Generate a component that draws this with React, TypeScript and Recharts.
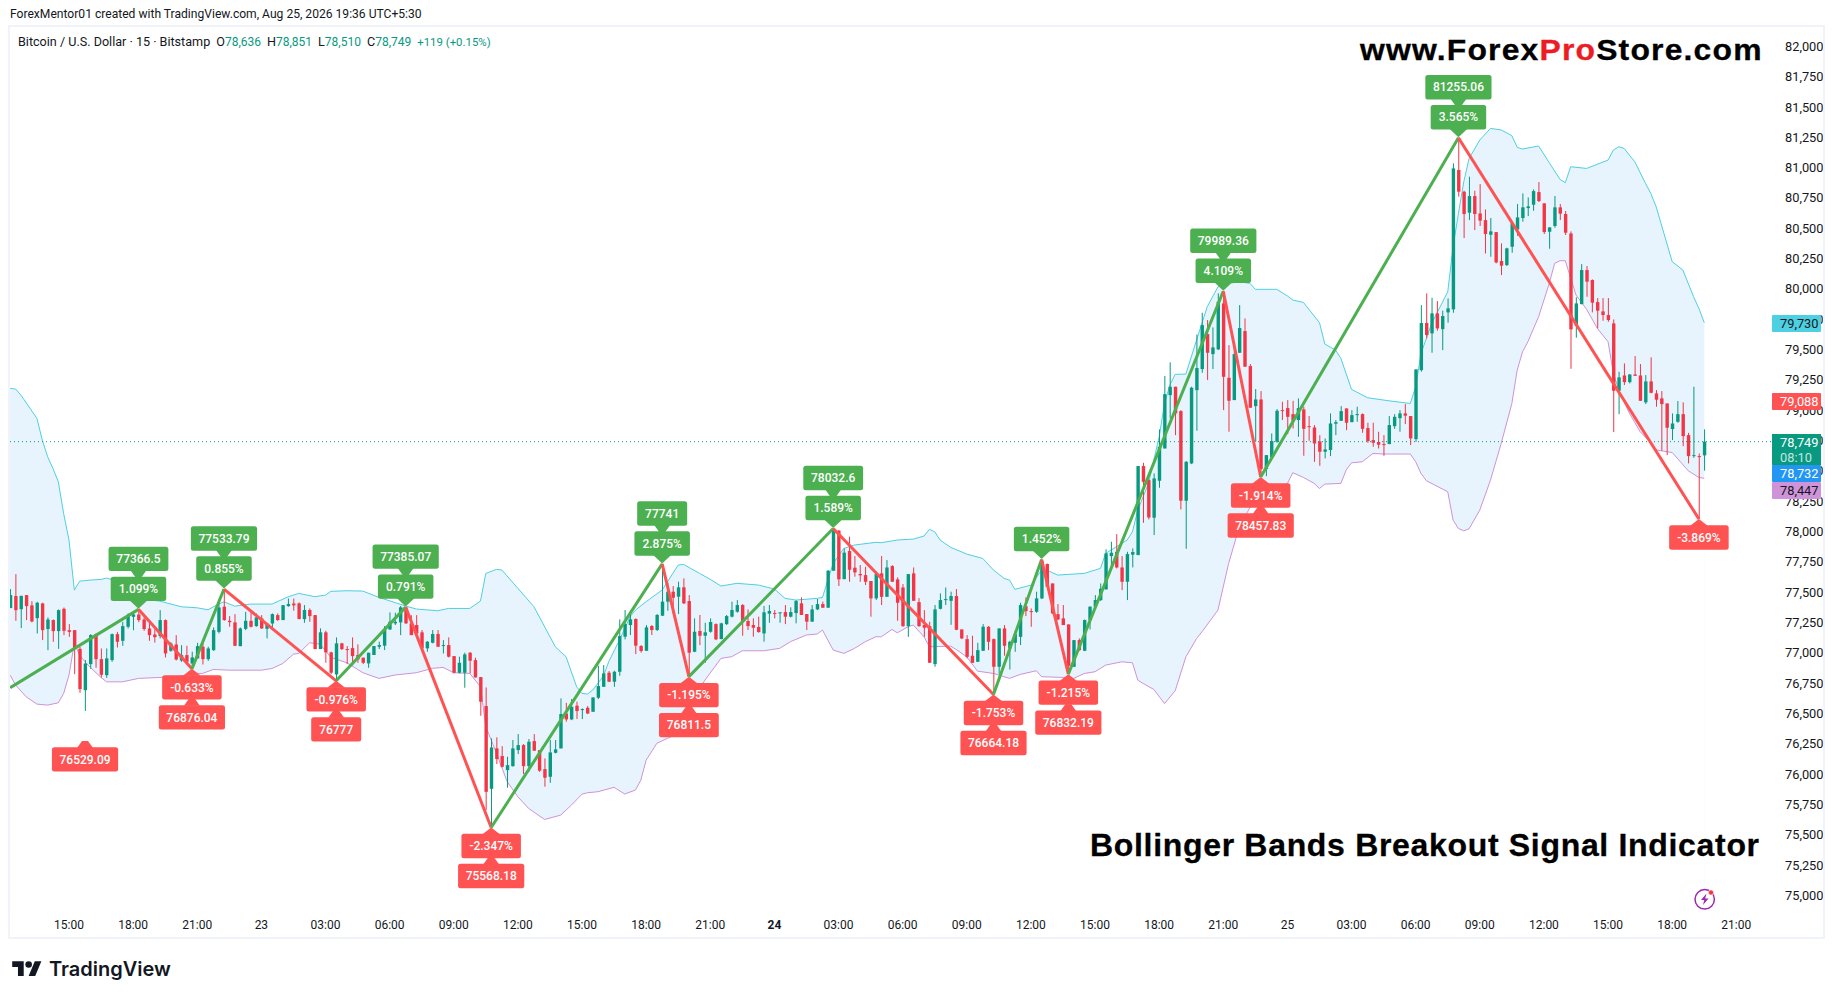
import React from 'react';
import { ComposedChart, Bar, Line, Area, XAxis, YAxis, ReferenceDot, ReferenceLine } from 'recharts';

const firstBar = -11;

const opens = [
  77377,77476,77368,77484,77399,77294,77415,77204,77278,77187,
  77371,77195,77195,77041,76700,76915,77162,76956,76824,76948,
  77162,77107,77223,77305,77324,77283,77209,77159,77146,77278,
  77025,77077,76945,76989,76920,76962,77058,76956,77030,77181,
  77388,77272,77259,77063,77206,77272,77228,77292,77206,77250,
  77319,77278,77393,77415,77416,77286,77361,77319,77039,77177,
  77012,76830,77086,77039,77047,76990,76968,76921,76990,77058,
  77067,77201,77251,77259,77380,77251,77237,77177,77045,77091,
  77163,77067,77072,76981,76844,76844,77009,76948,76808,76569,
  75887,76220,76157,76041,76074,76206,76247,76074,76280,76206,
  76049,75986,76184,76220,76508,76459,76572,76541,76555,76522,
  76638,76728,76844,76770,76852,77141,77237,77287,77064,77025,
  77229,77196,77314,77430,77512,77471,77548,77435,77017,77188,
  77149,77182,77245,77122,77245,77306,77347,77402,77270,77237,
  77221,77168,77331,77336,77339,77344,77306,77336,77416,77328,
  77265,77366,77410,77380,77685,78015,77616,77847,77710,77658,
  77649,77600,77457,77663,77470,77723,77613,77547,77228,77663,
  77426,77237,77228,76915,77371,77446,77437,77476,77201,77121,
  76984,76934,77025,77223,77121,76893,77209,77044,77091,77140,
  77393,77352,77347,77457,77740,77580,77327,77292,77242,76893,
  77113,77025,77278,77388,77443,77531,77806,77841,77712,77594,
  77817,77814,78548,78432,78122,78427,78693,79133,79202,79001,
  78262,78570,79174,79348,79636,79471,79510,79889,79276,79092,
  79482,79661,79372,79042,79097,78523,78619,78748,79009,79026,
  78976,78927,79015,78877,78866,78751,78666,78680,78897,78921,
  79023,78910,78971,78976,78861,78762,78746,78729,78729,78877,
  78943,78982,78960,78770,79339,79727,79642,79807,79677,79815,
  79840,80989,80810,80637,80774,80631,80576,80455,80477,80238,
  80205,80356,80499,80593,80675,80703,80807,80714,80480,80527,
  80681,80626,80466,79705,79883,80164,80082,79900,79823,79793,
  79724,79169,79295,79240,79303,79295,79073,79246,79147,79106,
  79064,78853,78913,78976,78803,78630,78630,78636,
];

const highs = [
  77533,77657,77478,77484,77434,77429,77421,77300,77283,77366,
  77382,77245,77195,77058,76948,77162,77168,77044,77044,77168,
  77181,77264,77333,77341,77366,77311,77256,77201,77360,77283,
  77096,77154,77071,77066,77017,77091,77085,77058,77217,77448,
  77534,77311,77327,77217,77346,77341,77333,77319,77250,77333,
  77333,77401,77456,77456,77424,77402,77374,77319,77210,77190,
  77017,77135,77091,77064,77135,77078,76968,77009,77064,77100,
  77229,77341,77339,77394,77385,77319,77319,77196,77105,77196,
  77196,77113,77135,76981,76976,77009,77014,76968,76808,76723,
  76302,76311,76239,76151,76289,76338,76256,76297,76338,76206,
  76137,76289,76289,76632,76596,76627,76605,76550,76569,76640,
  76902,76907,76858,76860,77284,77361,77361,77292,77072,77237,
  77237,77328,77741,77586,77559,77594,77622,77484,77292,77320,
  77256,77292,77251,77256,77320,77430,77443,77410,77366,77292,
  77306,77394,77402,77361,77342,77402,77383,77443,77465,77328,
  77402,77452,77430,77691,78032,78021,77869,77966,77806,77732,
  77718,77600,77677,77806,77773,77731,77630,77575,77657,77712,
  77459,77360,77264,77402,77498,77547,77512,77534,77201,77154,
  77149,77091,77245,77228,77127,77209,77237,77107,77190,77421,
  77465,77374,77512,77777,77745,77580,77410,77402,77242,77113,
  77127,77283,77393,77484,77580,77861,77924,77987,77806,77841,
  77869,78548,78575,78438,78487,78850,79290,79403,79202,79009,
  78589,79202,79633,79812,79752,79691,79972,79989,79545,79545,
  79875,79765,79389,79183,79166,78638,78817,79018,79078,79092,
  79086,79106,79037,78960,78886,78803,78776,78982,78927,79042,
  79023,79009,79037,78982,78905,78905,78831,78803,78960,78976,
  79009,79059,78960,79345,79875,79971,79936,79908,79829,79930,
  81044,81255,80818,80934,80818,80873,80664,80593,80477,80384,
  80348,80554,80708,80796,80763,80829,80890,80714,80516,80774,
  80708,80651,80483,79939,80213,80197,80087,79933,79933,79933,
  79757,79325,79394,79306,79455,79389,79298,79444,79174,79166,
  79064,78982,79084,79073,78822,79202,78652,78851,
];

const lows = [
  77377,77272,77212,77278,77259,77168,77113,77030,77099,77041,
  77154,77140,76832,76678,76529,76876,76885,76805,76802,76934,
  77052,77066,77209,77195,77261,77190,77107,77093,77127,76970,
  77017,76945,76934,76917,76876,76962,76912,76942,77025,77168,
  77272,77223,77063,77063,77195,77217,77223,77206,77127,77195,
  77272,77278,77388,77355,77286,77256,77264,77039,77039,76926,
  76833,76777,77031,76915,76907,76926,76915,76885,76990,77039,
  77031,77196,77237,77154,77245,77154,77154,77031,77017,77086,
  77058,77003,76970,76838,76838,76720,76838,76805,76489,75711,
  75568,76091,76063,75896,76069,76173,76008,76027,76201,76027,
  75904,75937,76179,76220,76440,76453,76462,76462,76503,76522,
  76627,76728,76767,76728,76819,77119,77155,76998,77009,77023,
  77155,77188,77314,77355,77333,77328,77410,76812,77014,77072,
  76926,77174,77113,77119,77237,77300,77339,77149,77196,77141,
  77174,77100,77256,77292,77256,77245,77300,77251,77320,77196,
  77265,77361,77380,77380,77685,77559,77614,77594,77636,77594,
  77567,77306,77443,77402,77470,77594,77272,77223,77140,77437,
  77223,77140,76926,76893,77366,77402,77239,77195,77121,76962,
  76926,76934,77025,77030,76664,76833,76984,76871,77017,77072,
  77311,77223,77338,77451,77553,77327,77278,77237,76832,76893,
  77025,77022,77201,77382,77435,77531,77696,77704,77525,77443,
  77712,77814,78080,78108,77979,78369,78693,78941,78803,78190,
  77866,78564,78839,79317,79257,79348,79504,79009,78831,79092,
  79482,79367,79029,78748,78458,78465,78611,78740,78927,78811,
  78858,78789,78633,78757,78583,78550,78611,78630,78803,78921,
  78844,78910,78913,78822,78740,78707,78693,78633,78729,78855,
  78831,78894,78721,78748,79326,79600,79482,79664,79504,79730,
  79812,80769,80428,80576,80494,80527,80301,80274,80219,80123,
  80197,80307,80447,80563,80609,80653,80725,80461,80340,80513,
  80576,80453,79350,79606,79883,79944,79815,79683,79746,79738,
  78828,78976,79216,79229,79292,79086,79059,79147,79037,78674,
  78638,78762,78905,78712,78570,78616,78111,78510,
];

const closes = [
  77484,77360,77478,77393,77267,77421,77195,77283,77187,77360,
  77190,77181,77041,76709,76920,77154,76956,76827,76962,77162,
  77099,77228,77319,77324,77278,77204,77154,77137,77278,77003,
  77085,76953,76989,76934,76970,77063,76956,77044,77195,77382,
  77278,77261,77066,77209,77272,77223,77300,77209,77250,77327,
  77278,77401,77410,77399,77286,77361,77311,77039,77177,77012,
  76844,77086,77039,77036,76981,76954,76926,77009,77064,77072,
  77201,77264,77264,77383,77251,77154,77168,77045,77100,77163,
  77058,77072,76976,76844,76926,76995,76943,76805,76605,75862,
  76228,76132,76069,76082,76220,76247,76074,76275,76201,76036,
  75978,76187,76212,76503,76459,76563,76528,76544,76508,76640,
  76734,76838,76770,76852,77146,77245,77284,77067,77023,77218,
  77196,77320,77430,77512,77462,77548,77416,77009,77182,77149,
  77177,77262,77119,77251,77311,77361,77402,77265,77229,77215,
  77179,77342,77353,77331,77342,77306,77344,77435,77320,77265,
  77366,77410,77380,77685,78021,77614,77834,77693,77671,77647,
  77594,77457,77658,77470,77712,77594,77421,77228,77657,77437,
  77228,77215,76926,77366,77443,77451,77476,77198,77127,76975,
  76926,77030,77223,77099,76893,77209,77066,77099,77162,77402,
  77352,77347,77457,77767,77553,77333,77283,77237,76901,77113,
  77030,77278,77388,77443,77536,77828,77833,77712,77594,77822,
  77839,78548,78418,78124,78446,78707,79141,79202,78982,78262,
  78583,79194,79356,79710,79482,79526,79903,79284,79086,79471,
  79686,79367,79029,79097,78523,78638,78754,79004,79004,78954,
  78916,79026,78855,78872,78734,78666,78685,78899,78910,79001,
  78905,78968,78976,78855,78754,78740,78724,78724,78886,78954,
  78982,78963,78776,79345,79727,79628,79807,79683,79785,79848,
  81002,80810,80626,80774,80626,80571,80461,80483,80227,80200,
  80343,80549,80598,80681,80689,80815,80733,80477,80516,80681,
  80629,80472,79675,79889,80164,80068,79895,79829,79793,79752,
  79169,79279,79240,79303,79292,79086,79246,79152,79095,79059,
  78864,78899,78976,78795,78630,78638,78625,78749,
];

// bollinger bands, read at the bends of each curve
const upperBars = [
  -11,-10,-9,-6,-5,-4,-3,-2,-1,0,1,2,4,6,7,8,13,17,21,24,26,28,29,31,34,38,41,
  43,46,48,49,52,55,58,63,65,69,71,75,77,78,80,81,87,91,93,95,96,97,98,100,101,103,105,106,108,111,114,115,
  118,120,122,125,129,132,134,136,140,141,142,143,145,147,151,152,155,158,160,161,162,163,165,168,171,173,175,176,177,180,182,183,185,190,193,194,196,198,199,
  200,202,204,205,206,207,209,211,213,215,217,219,221,222,226,228,229,231,234,235,237,238,240,243,247,251,252,
  253,255,258,259,260,261,262,264,266,268,270,271,272,275,277,279,280,281,284,288,289,290,291,293,295,296,297,300,302,304,305,306,
];
const upperValues = [
  79188,79183,79133,78941,78762,78625,78528,78419,78157,77937,77525,77599,77608,77613,77624,77613,77456,77434,77388,77379,77363,77410,77429,77393,77410,77410,77470,
  77498,77471,77484,77515,77520,77517,77465,77394,77369,77355,77374,77374,77435,77663,77696,77691,77388,77058,76976,76728,76673,76668,76701,76816,76935,77113,77306,77361,77430,77526,77732,77737,
  77663,77614,77559,77581,77567,77534,77457,77443,77457,77465,77608,77746,77869,77897,77919,77916,77938,77946,77971,78026,78006,77938,77877,77822,77786,77690,77621,77608,77531,77566,77690,77690,77649,77663,77704,77828,77883,77938,78006,
  78185,78405,78789,79064,79216,79304,79306,79587,79862,80025,80054,80068,80054,80005,80005,79950,79917,79897,79730,79554,79504,79436,79180,79111,79086,79064,79202,
  79477,79724,79985,80356,80631,80892,81085,81236,81332,81319,81272,81176,81162,81187,81049,80912,80884,81016,81002,81071,81154,81181,81167,81057,80879,80796,80686,80233,80164,79944,79848,79730,
];

const lowerBars = [
  -11,-10,-8,-6,-4,-2,-1,0,1,2,3,4,6,7,10,13,17,21,23,25,27,30,36,38,40,42,
  43,45,47,49,52,55,58,61,65,68,70,72,75,77,78,80,82,84,86,89,92,94,96,97,99,102,104,106,107,108,110,112,114,116,119,
  122,124,126,130,133,135,138,140,141,142,143,145,147,149,151,152,154,155,157,158,160,161,165,166,168,170,173,176,178,181,182,186,188,190,192,194,197,199,200,
  201,203,205,207,209,211,212,215,217,219,221,224,226,228,229,231,233,234,235,238,239,240,242,244,246,251,252,253,
  254,258,259,260,261,262,264,266,268,270,271,272,273,275,277,278,279,280,282,284,286,288,289,290,292,294,296,297,300,303,305,306,
];
const lowerValues = [
  76824,76742,76645,76585,76577,76596,76673,76824,77085,76989,76934,76887,76805,76769,76769,76797,76805,76816,76838,76838,76871,76865,76865,76879,76920,76997,
  77003,77091,77080,76970,76926,76844,76797,76825,76844,76880,76888,76844,76838,76728,76399,76179,75945,75821,75725,75634,75670,75752,75843,75854,75863,75899,75844,75877,75958,76123,76262,76303,76344,76564,76783,
  76962,76976,77025,77025,77045,77100,77155,77163,77196,77113,77031,77003,77045,77100,77141,77140,77201,77173,77223,77237,77140,77058,77063,77036,76975,76857,76838,76797,76830,76860,76811,76805,76797,76838,76852,76907,76934,76926,76783,
  76755,76706,76590,76695,76975,77126,77181,77360,77745,78047,78207,78295,78363,78405,78493,78454,78405,78363,78399,78405,78515,78575,78583,78652,78647,78647,78583,78487,
  78427,78336,78102,78033,78014,78031,78185,78432,78734,79064,79339,79490,79573,79779,80054,80219,80241,80241,79958,79839,79683,79573,79312,79174,78982,78831,78740,78680,78660,78509,78454,78447,
];

// zigzag pivots and the tags the indicator prints on them
const pivotBars = [-11, 13, 23, 29, 50, 63, 79, 111, 116, 143, 173, 182, 187, 216, 223, 260, 305];
const pivotPrices = [76721, 77366.5, 76876.04, 77533.79, 76777, 77385.07, 75568.18, 77741, 76811.5, 78032.6, 76664.18, 77777, 76832.19, 79989.36, 78457.83, 81255.06, 78111];
const pivotPercents = ['', '1.099%', '-0.633%', '0.855%', '-0.976%', '0.791%', '-2.347%', '2.875%', '-1.195%', '1.589%', '-1.753%', '1.452%', '-1.215%', '4.109%', '-1.914%', '3.565%', '-3.869%'];
const pivotLabels = ['', '77366.5', '76876.04', '77533.79', '76777', '77385.07', '75568.18', '77741', '76811.5', '78032.6', '76664.18', '', '76832.19', '79989.36', '78457.83', '81255.06', ''];
const extraLowBar = 3;
const extraLowPrice = 76529.09;

const yTicks = [75000, 75250, 75500, 75750, 76000, 76250, 76500, 76750, 77000, 77250, 77500, 77750, 78000, 78250, 78500, 78750, 79000, 79250, 79500, 79750, 80000, 80250, 80500, 80750, 81000, 81250, 81500, 81750, 82000];
const xTickBars = [0, 12, 24, 36, 48, 60, 72, 84, 96, 108, 120, 132, 144, 156, 168, 180, 192, 204, 216, 228, 240, 252, 264, 276, 288, 300, 312];
const xTickLabels = ['15:00', '18:00', '21:00', '23', '03:00', '06:00', '09:00', '12:00', '15:00', '18:00', '21:00', '24', '03:00', '06:00', '09:00', '12:00', '15:00', '18:00', '21:00', '25', '03:00', '06:00', '09:00', '12:00', '15:00', '18:00', '21:00'];

const lastPrice = 78749;
const yMin = 74887.6;
const yMax = 82159.8;

const UP = '#089981';
const DOWN = '#f23645';
const PIVOT_UP = '#4caf50';
const PIVOT_DOWN = '#ff5252';
const FONT = 'Roboto, "Noto Sans", sans-serif';

const candles = opens.map((open, n) => ({
  i: firstBar + n,
  open,
  high: highs[n],
  low: lows[n],
  close: closes[n],
}));
const upperBand = upperBars.map((i, n) => ({ i, value: upperValues[n] }));
const lowerBand = lowerBars.map((i, n) => ({ i, value: lowerValues[n] }));
const pivots = pivotBars.map((i, n) => ({ i, price: pivotPrices[n], pct: pivotPercents[n], label: pivotLabels[n] }));
const segments = pivots.slice(1).map((p, n) => ({ from: pivots[n], to: p, up: p.price > pivots[n].price }));

function Candle(props: any) {
  const { x, y, width, height, payload } = props;
  const up = payload.close >= payload.open;
  const color = up ? UP : DOWN;
  const perUnit = height / Math.max(payload.high - payload.low, 1);
  const top = y + (payload.high - Math.max(payload.open, payload.close)) * perUnit;
  const bodyH = Math.max(Math.abs(payload.close - payload.open) * perUnit, 1);
  const mid = x + width / 2;
  return (
    <g>
      <rect x={mid - 0.5} y={y} width={1} height={Math.max(height, 1)} fill={color} />
      <rect x={mid - 1.7} y={top} width={3.4} height={bodyH} fill={color} />
    </g>
  );
}

function tagWidth(text: string) {
  let w = 18;
  for (const ch of text) {
    if (ch === '.') w += 3.4;
    else if (ch === '%') w += 8.5;
    else if (ch === '-') w += 4;
    else w += 6.4;
  }
  return w;
}

function TagBox({ cx, top, text, fill }: any) {
  const w = tagWidth(text);
  return (
    <g>
      <rect x={cx - w / 2} y={top} width={w} height={24.4} rx={2.5} fill={fill} />
      <text x={cx} y={top + 12.2} dy=".35em" textAnchor="middle" fontFamily={FONT} fontSize={12} fontWeight={500} fill="#fff">
        {text}
      </text>
    </g>
  );
}

function PivotTag({ cx, cy, pct, label, up }: any) {
  const fill = up ? PIVOT_UP : PIVOT_DOWN;
  if (up) {
    return (
      <g>
        <polygon points={`${cx - 9},${cy - 9} ${cx + 9},${cy - 9} ${cx},${cy - 0.5}`} fill={fill} />
        <TagBox cx={cx} top={cy - 8.3 - 24.4} text={pct} fill={fill} />
        {label && <polygon points={`${cx - 8},${cy - 39} ${cx + 8},${cy - 39} ${cx + 3},${cy - 32} ${cx - 3},${cy - 32}`} fill={fill} />}
        {label && <TagBox cx={cx} top={cy - 38.3 - 24.4} text={label} fill={fill} />}
      </g>
    );
  }
  return (
    <g>
      {pct && <polygon points={`${cx - 9},${cy + 7} ${cx + 9},${cy + 7} ${cx},${cy}`} fill={fill} />}
      {pct && <TagBox cx={cx} top={cy + 6.3} text={pct} fill={fill} />}
      {label && <polygon points={`${cx - 8},${cy + 37} ${cx + 8},${cy + 37} ${cx + 3},${cy + 30} ${cx - 3},${cy + 30}`} fill={fill} />}
      {label && <TagBox cx={cx} top={cy + 36.3} text={label} fill={fill} />}
    </g>
  );
}

function TimeTick({ x, y, payload }: any) {
  const text = xTickLabels[xTickBars.indexOf(payload.value)];
  const bold = text === '24';
  return (
    <text x={x} y={y - 1} dy=".35em" textAnchor="middle" fontFamily={FONT} fontSize={12} fontWeight={bold ? 700 : 400} fill="#131722">
      {text}
    </text>
  );
}

function PriceTick({ x, y, payload }: any) {
  return (
    <text x={x} y={y - 1} dy=".35em" fontFamily={FONT} fontSize={12.8} fill="#131722">
      {payload.value.toLocaleString('en-US')}
    </text>
  );
}

const axisPills = [
  { text: '79,730', top: 314.5, height: 17, bg: '#4dd0e1', color: '#131722' },
  { text: '79,088', top: 393, height: 17, bg: '#ff5252', color: '#fff' },
  { text: '78,732', top: 465, height: 17, bg: '#2196f3', color: '#fff' },
  { text: '78,447', top: 482, height: 17, bg: '#ce93d8', color: '#131722' },
];

const titleFont = '"Liberation Sans", Arial, sans-serif';

export default function App() {
  return (
    <div style={{ position: 'absolute', left: 0, top: 0, width: 1835, height: 1000, background: '#fff', overflow: 'hidden' }}>
      <ComposedChart
        width={1835}
        height={1000}
        data={candles}
        margin={{ top: 28, right: 0, bottom: 62, left: 10 }}
      >
        <XAxis
          dataKey="i"
          type="number"
          domain={[-11.04, 318.49]}
          allowDataOverflow
          ticks={xTickBars}
          interval={0}
          height={28}
          axisLine={false}
          tickLine={false}
          tickMargin={10}
          tick={<TimeTick />}
        />
        <YAxis
          orientation="right"
          type="number"
          domain={[yMin, yMax]}
          allowDataOverflow
          ticks={yTicks}
          interval={0}
          width={64}
          axisLine={false}
          tickLine={false}
          tickMargin={8}
          tick={<PriceTick />}
        />
        <Area data={upperBand} dataKey="value" type="linear" baseValue={yMin} fill="#e7f3fd" fillOpacity={1} stroke="#4dd0e1" strokeWidth={1} dot={false} activeDot={false} isAnimationActive={false} />
        <Area data={lowerBand} dataKey="value" type="linear" baseValue={yMin} fill="#ffffff" fillOpacity={1} stroke="#ce93d8" strokeWidth={1} dot={false} activeDot={false} isAnimationActive={false} />
        <ReferenceLine y={lastPrice} stroke={UP} strokeDasharray="1 3" strokeWidth={1} />
        <Bar dataKey={(d: any) => [d.low, d.high]} barSize={4} shape={<Candle />} isAnimationActive={false} />
        {segments.map((s, n) => (
          <Line
            key={n}
            data={[s.from, s.to]}
            dataKey="price"
            type="linear"
            stroke={s.up ? PIVOT_UP : PIVOT_DOWN}
            strokeWidth={3}
            dot={false}
            activeDot={false}
            isAnimationActive={false}
          />
        ))}
        <ReferenceDot
          x={extraLowBar}
          y={extraLowPrice}
          ifOverflow="visible"
          shape={(p: any) => <PivotTag cx={p.cx} cy={p.cy} pct="" label={String(extraLowPrice)} up={false} />}
        />
        {segments.map((s, n) => (
          <ReferenceDot
            key={n}
            x={s.to.i}
            y={s.to.price}
            ifOverflow="visible"
            shape={(p: any) => <PivotTag cx={p.cx} cy={p.cy} pct={s.to.pct} label={s.to.label} up={s.up} />}
          />
        ))}
      </ComposedChart>

      <div style={{ position: 'absolute', left: 8, top: 25, width: 1817, height: 914, boxSizing: 'border-box', border: '2px solid #f0f3fa', pointerEvents: 'none' }} />

      <div style={{ position: 'absolute', left: 10, top: 7, fontFamily: FONT, fontSize: 12.1, color: '#131722', whiteSpace: 'nowrap' }}>
        ForexMentor01 created with TradingView.com, Aug 25, 2026 19:36 UTC+5:30
      </div>
      <div style={{ position: 'absolute', left: 18, top: 34, fontFamily: FONT, fontSize: 12.6, color: '#131722', whiteSpace: 'nowrap' }}>
        Bitcoin / U.S. Dollar · 15 · Bitstamp
        <span style={{ marginLeft: 6 }}>O</span><span style={{ color: UP, fontSize: 12 }}>78,636</span>
        <span style={{ marginLeft: 6 }}>H</span><span style={{ color: UP, fontSize: 12 }}>78,851</span>
        <span style={{ marginLeft: 6 }}>L</span><span style={{ color: UP, fontSize: 12 }}>78,510</span>
        <span style={{ marginLeft: 6 }}>C</span><span style={{ color: UP, fontSize: 12 }}>78,749</span>
        <span style={{ marginLeft: 6, color: UP, fontSize: 11.4 }}>+119 (+0.15%)</span>
      </div>

      <div style={{ position: 'absolute', left: 1360, top: 33, fontFamily: titleFont, fontWeight: 700, fontSize: 29.5, letterSpacing: 1.1, color: '#000', whiteSpace: 'nowrap', transform: 'scaleX(1.08)', transformOrigin: 'left center', WebkitTextStroke: '0.3px currentColor' }}>
        www.Forex<span style={{ color: '#ed1c24' }}>Pro</span>Store.com
      </div>
      <div style={{ position: 'absolute', left: 1090, top: 827, fontFamily: titleFont, fontWeight: 700, fontSize: 32, letterSpacing: 0.68, color: '#000', whiteSpace: 'nowrap', WebkitTextStroke: '0.3px #000' }}>
        Bollinger Bands Breakout Signal Indicator
      </div>

      {axisPills.map((p) => (
        <div key={p.text} style={{ position: 'absolute', left: 1772, top: p.top, width: 49, height: p.height, lineHeight: `${p.height}px`, paddingLeft: 8, boxSizing: 'border-box', background: p.bg, color: p.color, fontFamily: FONT, fontSize: 12.8, borderRadius: 1 }}>
          {p.text}
        </div>
      ))}
      <div style={{ position: 'absolute', left: 1772, top: 434, width: 49, height: 31, paddingLeft: 8, boxSizing: 'border-box', background: UP, color: '#fff', fontFamily: FONT, fontSize: 12.8, lineHeight: '15px', paddingTop: 1 }}>
        78,749
        <div style={{ opacity: 0.75 }}>08:10</div>
      </div>

      <svg style={{ position: 'absolute', left: 1690, top: 884 }} width={30} height={30} viewBox="0 0 30 30">
        <circle cx={14.7} cy={15.3} r={9.7} fill="none" stroke="#9c27b0" strokeWidth={1.5} />
        <path d="M16.5 9.5 L11 16 H14.3 L13 21 L18.5 14.5 H15.2 Z" fill="#9c27b0" />
        <circle cx={21} cy={8.5} r={2.6} fill="#f23645" stroke="#fff" strokeWidth={0.6} />
      </svg>

      <svg style={{ position: 'absolute', left: 12, top: 958 }} width={30} height={23} viewBox="0 0 36 28">
        <path d="M14 22H7V11H0V4h14v18zM28 22h-8l7.5-18h8L28 22z" fill="#131722" />
        <circle cx={20} cy={8} r={4} fill="#131722" />
      </svg>
      <div style={{ position: 'absolute', left: 49, top: 957, fontFamily: 'Inter, Roboto, sans-serif', fontWeight: 600, fontSize: 20, color: '#131722', whiteSpace: 'nowrap' }}>
        TradingView
      </div>
    </div>
  );
}
